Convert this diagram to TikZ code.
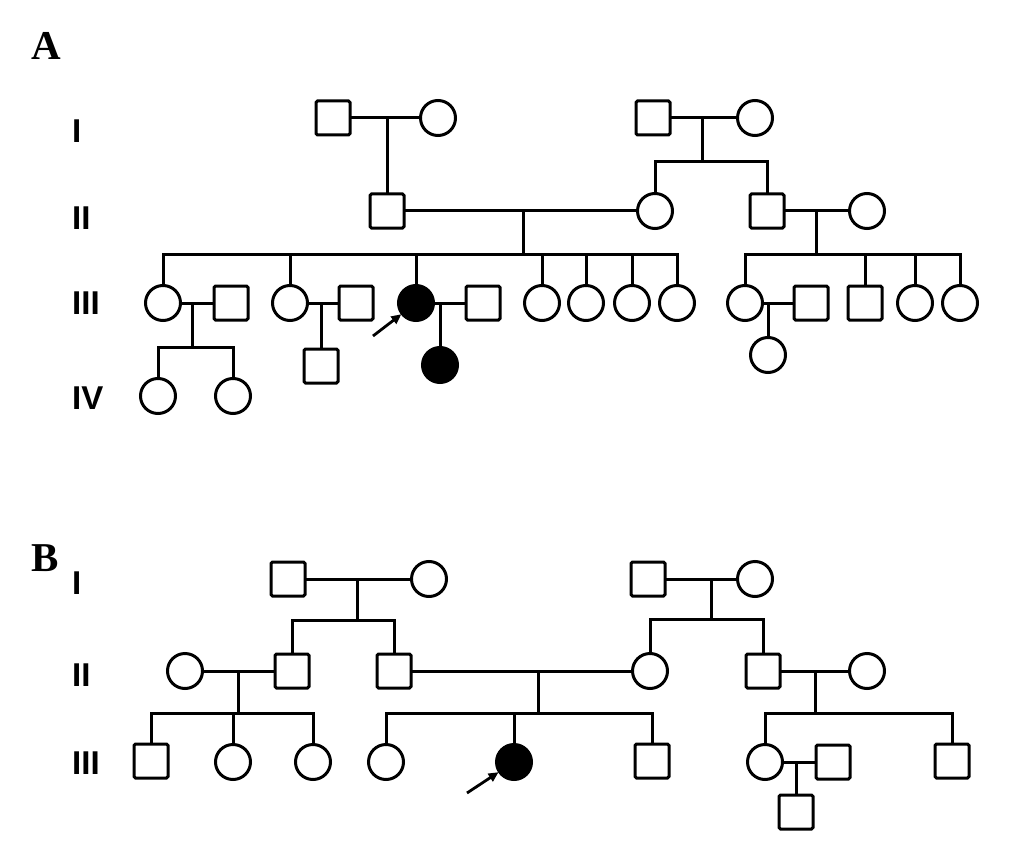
\documentclass[tikz,border=0pt]{standalone}
\usepackage{fontspec}
\newfontfamily\numfont{Liberation Sans}
\newfontfamily\letfont{Liberation Serif}
\usetikzlibrary{arrows.meta}
\begin{document}
\begin{tikzpicture}[x=1pt,y=-1pt,
  male/.style={draw,line width=3pt,rectangle,rounded corners=1.5pt,minimum size=34pt,inner sep=0pt,outer sep=0pt},
  female/.style={draw,line width=3pt,circle,minimum size=35pt,inner sep=0pt,outer sep=0pt},
  affected/.style={female,fill=black},
  gen/.style={anchor=west,inner sep=0pt,font=\numfont\bfseries\fontsize{33}{33}\selectfont},
  panel/.style={inner sep=0pt,font=\letfont\bfseries\fontsize{41}{41}\selectfont},
  link/.style={draw,line width=3pt},
  proband/.style={-{Triangle[length=10pt,width=9pt]},line width=2.8pt,shorten >=1pt}]
\useasboundingbox (0,0) rectangle (1033,845);
% ---------- Panel A ----------
\node[panel] (LA) at (46,46) {A};
\node[gen] (gA1) at (72,131) {I};
\node[gen] (gA2) at (72,218) {II};
\node[gen] (gA3) at (72,303) {III};
\node[gen] (gA4) at (72,398) {IV};
% generation I
\node[male] (AI1) at (333,118) {};
\node[female] (AI2) at (438,118) {};
\node[male] (AI3) at (653,118) {};
\node[female] (AI4) at (755,118) {};
% generation II
\node[male] (AII1) at (387,211) {};
\node[female] (AII2) at (655,211) {};
\node[male] (AII3) at (767,211) {};
\node[female] (AII4) at (867,211) {};
% generation III
\node[female] (AIII1) at (163,303) {};
\node[male] (AIII1s) at (231,303) {};
\node[female] (AIII2) at (290,303) {};
\node[male] (AIII2s) at (356,303) {};
\node[affected] (AIII3) at (416,303) {};
\node[male] (AIII3s) at (483,303) {};
\node[female] (AIII4) at (542,303) {};
\node[female] (AIII5) at (586,303) {};
\node[female] (AIII6) at (632,303) {};
\node[female] (AIII7) at (677,303) {};
\node[female] (AIII8) at (745,303) {};
\node[male] (AIII8s) at (811,303) {};
\node[male] (AIII9) at (865,303) {};
\node[female] (AIII10) at (915,303) {};
\node[female] (AIII11) at (960,303) {};
% generation IV
\node[female] (AIV1) at (158,396) {};
\node[female] (AIV2) at (233,396) {};
\node[male] (AIV3) at (321,366) {};
\node[affected] (AIV4) at (440,365) {};
\node[female] (AIV5) at (768,355) {};
% marriages
\draw[link] (AI1) -- (AI2);
\draw[link] (AI3) -- (AI4);
\draw[link] (AII1) -- (AII2);
\draw[link] (AII3) -- (AII4);
\draw[link] (AIII1) -- (AIII1s);
\draw[link] (AIII2) -- (AIII2s);
\draw[link] (AIII3) -- (AIII3s);
\draw[link] (AIII8) -- (AIII8s);
% descent lines
\coordinate (dA1) at (387,118);
\draw[link] (dA1) -- (AII1);
\coordinate (dA2) at (702,118);
\coordinate (sA2) at (702,162);
\draw[link] (dA2) -- (sA2);
\draw[link] (AII2.north) |- (sA2) -| (AII3.north);
\coordinate (dA3) at (523,211);
\coordinate (sA3) at (523,254);
\draw[link] (dA3) -- (sA3);
\draw[link] (AIII1.north) |- (sA3) -| (AIII7.north);
\foreach \c in {AIII2,AIII3,AIII4,AIII5,AIII6}{\draw[link] (\c.north) -- (\c.north |- sA3);}
\coordinate (dA4) at (816,211);
\coordinate (sA4) at (816,254);
\draw[link] (dA4) -- (sA4);
\draw[link] (AIII8.north) |- (sA4) -| (AIII11.north);
\foreach \c in {AIII9,AIII10}{\draw[link] (\c.north) -- (\c.north |- sA4);}
\coordinate (dA5) at (192,303);
\coordinate (sA5) at (192,347);
\draw[link] (dA5) -- (sA5);
\draw[link] (AIV1.north) |- (sA5) -| (AIV2.north);
\coordinate (dA6) at (321,303);
\draw[link] (dA6) -- (AIV3);
\coordinate (dA7) at (440,303);
\draw[link] (dA7) -- (AIV4);
\coordinate (dA8) at (768,303);
\draw[link] (dA8) -- (AIV5);
% proband arrow
\coordinate (pA) at (373,336);
\draw[proband] (pA) -- (AIII3);
% ---------- Panel B ----------
\node[panel] (LB) at (45,558) {B};
\node[gen] (gB1) at (72,583) {I};
\node[gen] (gB2) at (72,675) {II};
\node[gen] (gB3) at (72,763) {III};
% generation I
\node[male] (BI1) at (288,579) {};
\node[female] (BI2) at (429,579) {};
\node[male] (BI3) at (648,579) {};
\node[female] (BI4) at (755,579) {};
% generation II
\node[female] (BII1) at (185,671) {};
\node[male] (BII2) at (292,671) {};
\node[male] (BII3) at (394,671) {};
\node[female] (BII4) at (650,671) {};
\node[male] (BII5) at (763,671) {};
\node[female] (BII6) at (867,671) {};
% generation III
\node[male] (BIII1) at (151,761) {};
\node[female] (BIII2) at (233,762) {};
\node[female] (BIII3) at (313,762) {};
\node[female] (BIII4) at (386,762) {};
\node[affected] (BIII5) at (514,762) {};
\node[male] (BIII6) at (652,761) {};
\node[female] (BIII7) at (765,762) {};
\node[male] (BIII8) at (833,762) {};
\node[male] (BIII9) at (952,761) {};
% generation IV
\node[male] (BIV1) at (796,812) {};
% marriages
\draw[link] (BI1) -- (BI2);
\draw[link] (BI3) -- (BI4);
\draw[link] (BII1) -- (BII2);
\draw[link] (BII3) -- (BII4);
\draw[link] (BII5) -- (BII6);
\draw[link] (BIII7) -- (BIII8);
% descent lines
\coordinate (dB1) at (357,579);
\coordinate (sB1) at (357,620);
\draw[link] (dB1) -- (sB1);
\draw[link] (BII2.north) |- (sB1) -| (BII3.north);
\coordinate (dB2) at (711,579);
\coordinate (sB2) at (711,619);
\draw[link] (dB2) -- (sB2);
\draw[link] (BII4.north) |- (sB2) -| (BII5.north);
\coordinate (dB3) at (238,671);
\coordinate (sB3) at (238,713);
\draw[link] (dB3) -- (sB3);
\draw[link] (BIII1.north) |- (sB3) -| (BIII3.north);
\draw[link] (BIII2.north) -- (BIII2.north |- sB3);
\coordinate (dB4) at (538,671);
\coordinate (sB4) at (538,713);
\draw[link] (dB4) -- (sB4);
\draw[link] (BIII4.north) |- (sB4) -| (BIII6.north);
\draw[link] (BIII5.north) -- (BIII5.north |- sB4);
\coordinate (dB5) at (815,671);
\coordinate (sB5) at (815,713);
\draw[link] (dB5) -- (sB5);
\draw[link] (BIII7.north) |- (sB5) -| (BIII9.north);
\coordinate (dB6) at (796,762);
\draw[link] (dB6) -- (BIV1);
% proband arrow
\coordinate (pB) at (467,793);
\draw[proband] (pB) -- (BIII5);
\end{tikzpicture}
\end{document}
